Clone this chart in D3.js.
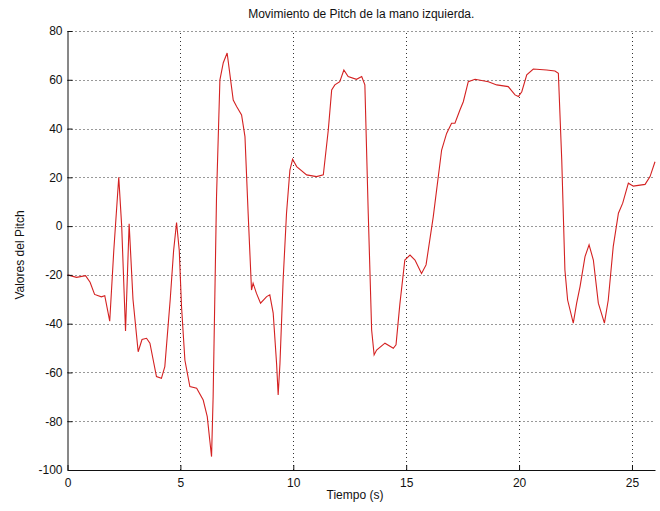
<!DOCTYPE html>
<html>
<head>
<meta charset="utf-8">
<script src="https://cdn.jsdelivr.net/npm/d3@7/dist/d3.min.js"></script>
<style>
  body { margin: 0; background: #fff; }
  svg { display: block; font-family: "Liberation Sans", Arial, sans-serif; }
</style>
</head>
<body>
<div id="chart"></div>
<script>
// tiempo (s) y valores del pitch
var tiempo = [0, 0.4, 0.8, 1.0, 1.2, 1.5, 1.65, 1.87, 2.05, 2.27, 2.4, 2.57, 2.73, 2.9, 3.13, 3.3, 3.5, 3.65, 3.94, 4.16,
  4.31, 4.55, 4.7, 4.83, 4.95, 5.05, 5.2, 5.42, 5.72, 6.01, 6.19, 6.3, 6.38, 6.45, 6.6, 6.75, 6.9, 7.07, 7.34, 7.49,
  7.71, 7.86, 8.0, 8.15, 8.22, 8.37, 8.55, 8.82, 8.96, 9.11, 9.26, 9.33, 9.41, 9.55, 9.7, 9.85, 9.97, 10.15, 10.59, 11.03,
  11.33, 11.55, 11.7, 11.84, 12.06, 12.24, 12.43, 12.8, 13.03, 13.17, 13.32, 13.47, 13.58, 13.69, 14.06, 14.43, 14.55, 14.72, 14.94, 15.17,
  15.39, 15.68, 15.88, 16.2, 16.57, 16.79, 17.01, 17.16, 17.38, 17.53, 17.75, 18.05, 18.64, 19.01, 19.52, 19.82, 19.97, 20.12, 20.34, 20.63,
  21.22, 21.59, 21.74, 21.89, 22.03, 22.15, 22.4, 22.55, 22.7, 22.92, 23.1, 23.29, 23.51, 23.78, 23.95, 24.17, 24.4, 24.59, 24.84, 25.06,
  25.58, 25.8, 26.02];
var pitch = [-20, -21, -20.3, -23, -28, -29, -28.5, -39, -10, 20, 0, -43, 1, -30, -51.5, -46.5, -46, -48, -61.7, -62.4,
  -57.6, -30, -10, 1.5, -10, -33, -55, -65.8, -66.5, -71.3, -78.1, -87.7, -94.5, -70, 12, 60, 67, 71, 51.7, 49,
  45.6, 36.7, 5.3, -26.2, -23.4, -27.6, -31.6, -28.9, -28.2, -35.7, -56.3, -69.2, -56.3, -22.1, 5.3, 23, 27.4, 24.4, 21, 20.3,
  21, 39.4, 55.8, 57.9, 59.2, 64, 61.3, 60.2, 61.3, 57.9, 5.3, -42.6, -52.8, -50.8, -48, -50.1, -48.7, -32, -13.9, -11.9,
  -13.9, -19.4, -15.9, 3.9, 31.2, 38, 42.2, 42.2, 47.6, 51, 59.2, 60.2, 59.2, 57.9, 57.2, 53.8, 53.1, 55.1, 62, 64.4,
  64, 63.6, 62.7, 27.1, -18, -30.3, -39.8, -31.6, -24.8, -12.5, -7.7, -13.9, -31.6, -39.8, -30.3, -8.4, 5.3, 9.4, 17.6, 16.4,
  17.1, 20.3, 26.4];

var xTicks = [0, 5, 10, 15, 20, 25];
var yTicks = [-100, -80, -60, -40, -20, 0, 20, 40, 60, 80];

var W = 660, H = 511;
var margin = {top: 31, right: 5, bottom: 41, left: 67.5};

var svg = d3.select("#chart").append("svg").attr("width", W).attr("height", H);

var x = d3.scaleLinear().domain([0, 26.02]).range([margin.left, W - margin.right]);
var y = d3.scaleLinear().domain([-100, 80]).range([H - margin.bottom, margin.top]);

// rejilla punteada
var grid = svg.append("g").attr("stroke", "#333").attr("stroke-width", 1).attr("stroke-dasharray", "1,3");
grid.selectAll("line.gx").data(xTicks.filter(function(d){ return d > 0; })).enter().append("line")
  .attr("x1", function(d){ return Math.round(x(d)) + 0.5; })
  .attr("x2", function(d){ return Math.round(x(d)) + 0.5; })
  .attr("y1", y(-100)).attr("y2", y(80));
grid.selectAll("line.gy").data(yTicks.filter(function(d){ return d > -100; })).enter().append("line")
  .attr("y1", function(d){ return Math.round(y(d)) + 0.5; })
  .attr("y2", function(d){ return Math.round(y(d)) + 0.5; })
  .attr("x1", x(0)).attr("x2", x(26.02));

// linea
var line = d3.line()
  .x(function(d, i){ return x(tiempo[i]); })
  .y(function(d){ return y(d); });

svg.append("path").datum(pitch)
  .attr("d", line)
  .attr("fill", "none")
  .attr("stroke", "#d42222")
  .attr("stroke-width", 1.1);

// ejes (guion normal como signo menos, igual que el original)
var fmt = function(d){ return String(d); };
var xAxis = d3.axisBottom(x).tickValues(xTicks).tickFormat(fmt).tickSizeInner(-5).tickSizeOuter(0).tickPadding(8);
var yAxis = d3.axisLeft(y).tickValues(yTicks).tickFormat(fmt).tickSizeInner(-5).tickSizeOuter(0).tickPadding(5);

var gx = svg.append("g").attr("transform", "translate(0," + y(-100) + ")").call(xAxis);
var gy = svg.append("g").attr("transform", "translate(" + x(0) + ",0)").call(yAxis);

[gx, gy].forEach(function(g){
  g.selectAll("text").attr("font-size", 12).attr("fill", "#111").attr("font-family", "Liberation Sans, Arial, sans-serif");
  g.selectAll("line").attr("stroke", "#111");
  g.select(".domain").attr("stroke", "#111");
});

// textos
svg.append("text")
  .attr("x", (x(0) + x(26.02)) / 2).attr("y", 18)
  .attr("text-anchor", "middle").attr("font-size", 12).attr("fill", "#111")
  .text("Movimiento de Pitch de la mano izquierda.");

svg.append("text")
  .attr("x", 355).attr("y", 499)
  .attr("text-anchor", "middle").attr("font-size", 12).attr("fill", "#111")
  .text("Tiempo (s)");

svg.append("text")
  .attr("transform", "translate(24," + 255 + ") rotate(-90)")
  .attr("text-anchor", "middle").attr("font-size", 12).attr("fill", "#111")
  .text("Valores del Pitch");
</script>
</body>
</html>
